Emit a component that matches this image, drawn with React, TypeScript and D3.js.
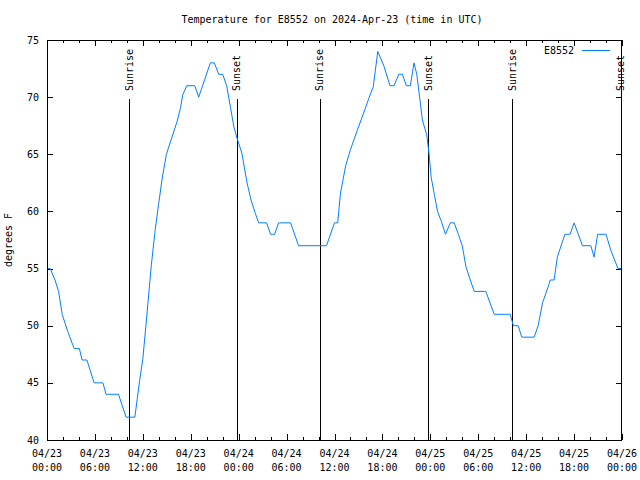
import React from "react";
import * as d3 from "d3";

const START_UTC = Date.UTC(2024, 3, 23, 0, 0, 0);
const END_UTC = Date.UTC(2024, 3, 26, 0, 0, 0);

// hours since 2024-04-23 00:00 UTC
const hoursSinceStart = [
  0, 0.4, 1.0, 1.45, 1.9, 2.6, 3.4, 4.05, 4.4, 5.0, 5.9, 7.0, 7.4, 8.95, 9.9, 11.0,
  11.6, 12.0, 12.45, 13.05, 13.55, 13.97, 14.4, 14.95, 15.65, 16.3, 16.7, 17.0, 17.5,
  18.5, 19.0, 20.45, 20.95, 21.5, 22.0, 22.5, 22.95, 23.4, 23.8, 24.4, 25.05, 25.55,
  26.1, 26.5, 27.5, 28.0, 28.5, 29.0, 30.5, 31.5, 35.0, 36.0, 36.4, 36.75, 37.4, 38.0,
  38.85, 39.7, 40.3, 40.85, 41.42, 42.2, 42.95, 43.45, 44.05, 44.5, 45.0, 45.5, 45.95,
  46.3, 46.8, 47.0, 47.55, 47.85, 48.1, 48.5, 48.9, 49.4, 49.9, 50.5, 51.0, 51.5, 52.0,
  52.45, 53.0, 53.5, 54.95, 56.0, 58.0, 58.4, 59.0, 59.45, 61.0, 61.5, 62.05, 62.9,
  63.0, 63.5, 63.9, 64.85, 65.5, 66.0, 67.05, 68.1, 68.5, 68.95, 70.0, 70.6, 71.5, 71.9,
];
const temperatureF = [
  55, 55, 54, 53, 51, 49.5, 48, 48, 47, 47, 45, 45, 44, 44, 42, 42,
  45.2, 47.1, 50.5, 55.2, 58.4, 60.6, 62.8, 65, 66.5, 67.9, 69, 70.2, 71,
  71, 70, 73, 73, 72, 72, 71, 69.2, 67.4, 66.4, 65.1, 62.5, 61,
  59.8, 59, 59, 58, 58, 59, 59, 57, 57, 59, 59, 61.6, 64, 65.4,
  67.1, 68.7, 69.9, 70.9, 74, 72.7, 71, 71, 72, 72, 71, 71, 73,
  72, 69.2, 68, 66.7, 65, 63, 61.5, 60, 59.1, 58, 59, 59, 58, 57,
  55.2, 54, 53, 53, 51, 51, 50, 50, 49, 49, 50, 52, 53.7,
  54, 54, 56, 58, 58, 59, 57, 57, 56, 58, 58, 56.6, 55, 55,
];

const sunEventHours = [10.33, 23.73, 34.18, 47.75, 58.27, 71.87];
const sunEventLabels = ["Sunrise", "Sunset", "Sunrise", "Sunset", "Sunrise", "Sunset"];

const yTicks = [40, 45, 50, 55, 60, 65, 70, 75];
const seriesName = "E8552";
const titleText = "Temperature for E8552 on 2024-Apr-23 (time in UTC)";
const yAxisLabel = "degrees F";

const W = 640;
const H = 480;
const L = 47;
const R = 622;
const T = 40;
const B = 440;
const FONT = "'DejaVu Sans Mono', 'Liberation Mono', monospace";
const BLUE = "#0080ff";

const hourMs = 3600 * 1000;

export default function App() {
  const x = d3
    .scaleUtc()
    .domain([new Date(START_UTC), new Date(END_UTC)])
    .range([L, R]);
  const y = d3.scaleLinear().domain([40, 75]).range([B, T]);

  const majorTicks = x.ticks(d3.utcHour.every(6) as any);
  const minorTicks = x.ticks(d3.utcHour.every(2) as any);
  const fmtDate = d3.utcFormat("%m/%d");
  const fmtTime = d3.utcFormat("%H:%M");

  const points = hoursSinceStart.map((h, i) => ({
    t: new Date(START_UTC + h * hourMs),
    v: temperatureF[i],
  }));
  const line = d3
    .line<{ t: Date; v: number }>()
    .x((d) => x(d.t))
    .y((d) => y(d.v));

  const px = (v: number) => Math.round(v) + 0.5;

  return (
    <svg
      width={W}
      height={H}
      style={{ position: "absolute", left: 0, top: 0, background: "#fff" }}
      fontFamily={FONT}
      fontSize={10}
    >
      <rect x={0} y={0} width={W} height={H} fill="#fff" />
      {/* title */}
      <text x={332} y={23} textAnchor="middle" fill="#000">
        {titleText}
      </text>
      {/* y label */}
      <text
        transform={`translate(12,${(T + B) / 2}) rotate(-90)`}
        textAnchor="middle"
        fill="#000"
      >
        {yAxisLabel}
      </text>

      {/* y ticks */}
      {yTicks.map((v) => (
        <g key={"y" + v}>
          <line x1={L} x2={L + 6} y1={px(y(v))} y2={px(y(v))} stroke="#000" shapeRendering="crispEdges" />
          <line x1={R - 6} x2={R} y1={px(y(v))} y2={px(y(v))} stroke="#000" shapeRendering="crispEdges" />
          <text x={39} y={y(v)} dy="0.35em" textAnchor="end" fill="#000">
            {v}
          </text>
        </g>
      ))}

      {/* x minor ticks */}
      {minorTicks.map((d, i) => (
        <g key={"m" + i}>
          <line x1={px(x(d))} x2={px(x(d))} y1={B} y2={B - 3} stroke="#000" shapeRendering="crispEdges" />
          <line x1={px(x(d))} x2={px(x(d))} y1={T} y2={T + 3} stroke="#000" shapeRendering="crispEdges" />
        </g>
      ))}
      {/* x major ticks */}
      {majorTicks.map((d, i) => (
        <g key={"M" + i}>
          <line x1={px(x(d))} x2={px(x(d))} y1={B} y2={B - 6} stroke="#000" shapeRendering="crispEdges" />
          <line x1={px(x(d))} x2={px(x(d))} y1={T} y2={T + 6} stroke="#000" shapeRendering="crispEdges" />
          <text x={x(d)} y={457} textAnchor="middle" fill="#000">
            {fmtDate(d)}
          </text>
          <text x={x(d)} y={471} textAnchor="middle" fill="#000">
            {fmtTime(d)}
          </text>
        </g>
      ))}

      {/* sun events */}
      {sunEventHours.map((h, i) => {
        const xx = x(new Date(START_UTC + h * hourMs));
        return (
          <g key={"s" + i}>
            <line x1={px(xx)} x2={px(xx)} y1={99} y2={B} stroke="#000" shapeRendering="crispEdges" />
            <text
              transform={`translate(${xx},91) rotate(-90)`}
              dy="0.35em"
              textAnchor="start"
              fill="#000"
            >
              {sunEventLabels[i]}
            </text>
          </g>
        );
      })}

      {/* data */}
      <path d={line(points) || ""} fill="none" stroke={BLUE} strokeWidth={1} />

      {/* legend */}
      <text x={574} y={54} textAnchor="end" fill="#000">
        {seriesName}
      </text>
      <line x1={582} x2={610} y1={50.5} y2={50.5} stroke={BLUE} shapeRendering="crispEdges" />

      {/* frame */}
      <rect
        x={L + 0.5}
        y={T + 0.5}
        width={R - L - 1}
        height={B - T}
        fill="none"
        stroke="#000"
        shapeRendering="crispEdges"
      />
    </svg>
  );
}
